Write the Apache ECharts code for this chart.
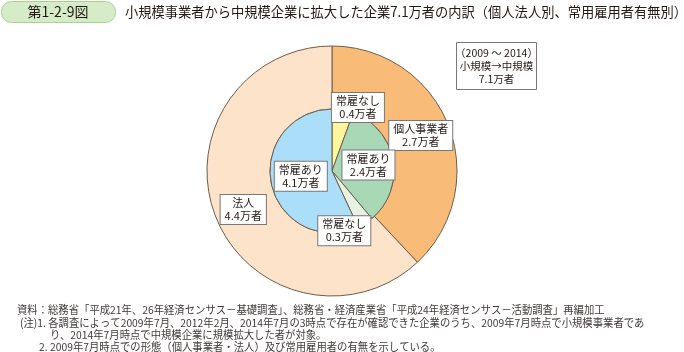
<!DOCTYPE html>
<html>
<head>
<meta charset="utf-8">
<script src="https://cdn.jsdelivr.net/npm/echarts@6/dist/echarts.min.js"></script>
<style>
  html, body { margin: 0; padding: 0; background: #fff; }
  #chart { width: 684px; height: 352px; }
</style>
</head>
<body>
<div id="chart"></div>
<script>
var outerNames = ['個人事業者', '法人'];
var outerValues = [2.7, 4.4];
var innerNames = ['常雇なし', '常雇あり', '常雇なし', '常雇あり'];
var innerValues = [0.4, 2.4, 0.3, 4.1];
var unit = '万者';

var figNo = '第1-2-9図';
var titleText = '小規模事業者から中規模企業に拡大した企業7.1万者の内訳（個人法人別、常用雇用者有無別）';
var noteBox = ['（2009 ～ 2014）', '小規模→中規模', '7.1万者'];
var footLines = [
  '資料：総務省「平成21年、26年経済センサス－基礎調査」、総務省・経済産業省「平成24年経済センサス－活動調査」再編加工',
  '(注)1. 各調査によって2009年7月、2012年2月、2014年7月の3時点で存在が確認できた企業のうち、2009年7月時点で小規模事業者であ',
  'り、2014年7月時点で中規模企業に規模拡大した者が対象。',
  '2. 2009年7月時点での形態（個人事業者・法人）及び常用雇用者の有無を示している。'
];

// styling (kept apart from the data)
var outerColors = ['#f9bb78', '#fde3c9'];
var innerColors = ['#fff59b', '#a9d8b6', '#e7f2e5', '#abdef8'];
var outerNudge = [[-1, 0], [1, 3]];
var innerNudge = [[20, -30], [3, 0], [-6, 31], [2, -2]];
var footX = [17, 20, 50, 39];
var footY = [310, 323, 335, 347];

var font = '"Noto Sans CJK JP", "Noto Sans", sans-serif';
var edge = '#6e5d4e';

var chart = echarts.init(document.getElementById('chart'), null, { renderer: 'canvas' });

function makeData(names, values, colors) {
  return names.map(function(n, i) {
    return { name: n, value: values[i], itemStyle: { color: colors[i] } };
  });
}

var boxLabel = {
  show: true,
  position: 'inside',
  formatter: function(p) { return p.name + '\n' + p.value + unit; },
  color: '#231815',
  fontFamily: font,
  fontSize: 11,
  lineHeight: 13,
  backgroundColor: '#fff',
  borderColor: '#777',
  borderWidth: 1,
  padding: [2, 4, 1, 4]
};

var graphics = [
  {
    type: 'rect',
    shape: { x: 1.5, y: 1.5, width: 114, height: 21, r: 10 },
    style: { fill: '#d6ecc9', stroke: '#a9d28f', lineWidth: 1 }
  },
  {
    type: 'text',
    x: 58, y: 12,
    style: { text: figNo, font: '14px ' + font, fill: '#231815', align: 'center', verticalAlign: 'middle' }
  },
  {
    type: 'text',
    x: 125, y: 12, scaleX: 0.947,
    style: { text: titleText, font: '14px ' + font, fill: '#231815', verticalAlign: 'middle' }
  },
  {
    type: 'rect',
    shape: { x: 456.5, y: 42.5, width: 80, height: 47 },
    style: { fill: '#fff', stroke: '#777', lineWidth: 1 }
  },
  {
    type: 'text',
    x: 496.5, y: 66,
    style: { text: noteBox.join('\n'), font: '10.5px ' + font, lineHeight: 13, fill: '#231815', align: 'center', verticalAlign: 'middle' }
  }
];

footLines.forEach(function(t, i) {
  graphics.push({
    type: 'text',
    x: footX[i], y: footY[i], scaleX: 0.94,
    style: { text: t, font: '11px ' + font, fill: '#3e3a39', verticalAlign: 'middle' }
  });
});

var option = {
  animation: false,
  backgroundColor: '#fff',
  graphic: graphics,
  series: [
    {
      type: 'pie',
      center: [332, 171],
      radius: [62, 125],
      startAngle: 90,
      clockwise: true,
      avoidLabelOverlap: false,
      silent: true,
      itemStyle: { borderColor: edge, borderWidth: 1 },
      label: boxLabel,
      labelLine: { show: false },
      labelLayout: function(p) {
        var n = outerNudge[p.dataIndex];
        return { dx: n[0], dy: n[1] };
      },
      data: makeData(outerNames, outerValues, outerColors)
    },
    {
      type: 'pie',
      center: [332, 171],
      radius: [0, 62],
      startAngle: 90,
      clockwise: true,
      avoidLabelOverlap: false,
      silent: true,
      itemStyle: { borderColor: edge, borderWidth: 1 },
      label: boxLabel,
      labelLine: { show: false },
      labelLayout: function(p) {
        var n = innerNudge[p.dataIndex];
        return { dx: n[0], dy: n[1] };
      },
      data: makeData(innerNames, innerValues, innerColors)
    }
  ]
};

chart.setOption(option);
window.addEventListener('resize', function() { chart.resize(); });
</script>
</body>
</html>
